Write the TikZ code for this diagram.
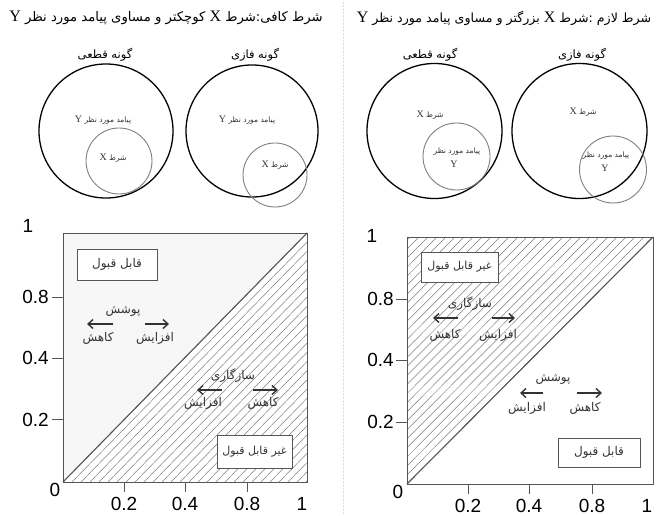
\documentclass[tikz,border=0pt]{standalone}
\usepackage{fontspec}
\setmainfont{Liberation Serif}
\setsansfont{Liberation Sans}
\newfontfamily\fa[Script=Arabic]{DejaVu Sans}
\TeXXeTstate=1
\usetikzlibrary{
  arrows.meta
}
\definecolor{FrameGray}{HTML}{555555}
\definecolor{HatchGray}{HTML}{808080}
\definecolor{InkGray}{HTML}{333333}
\definecolor{PlotBack}{HTML}{F7F7F7}
\newcommand{\latin}[2]{{\rmfamily\fontsize{#1}{#1}\selectfont #2}}
\tikzset{
  headline/.style={
    font=\fa\fontsize{13.2}{15}\selectfont,
    inner sep=0pt
  },
  kind/.style={
    font=\fa\fontsize{11.5}{13}\selectfont,
    inner sep=0pt
  },
  outcome/.style={
    circle,
    draw=black,
    line width=1.3pt,
    inner sep=0pt,
    minimum size=134pt
  },
  condition/.style={
    circle,
    draw=HatchGray,
    line width=0.9pt,
    inner sep=0pt,
    minimum size=66pt
  },
  tinytext/.style={
    font=\fa\fontsize{7.5}{9}\selectfont,
    text=InkGray,
    inner sep=0pt
  },
  frame/.style={
    draw=FrameGray,
    line width=0.9pt
  },
  hatch/.style={
    draw=HatchGray,
    line width=0.5pt
  },
  diag/.style={
    draw=FrameGray,
    line width=1.1pt
  },
  tickmark/.style={
    draw=FrameGray,
    line width=0.8pt
  },
  num/.style={
    font=\sffamily\fontsize{19}{21}\selectfont,
    inner sep=0pt
  },
  verdict/.style={
    draw=FrameGray,
    fill=white,
    line width=0.9pt,
    inner sep=0pt,
    font=\fa\fontsize{12}{14}\selectfont,
    text=InkGray
  },
  word/.style={
    font=\fa\fontsize{12}{14}\selectfont,
    text=InkGray,
    inner sep=0pt
  },
  swingarrow/.style={
    -{Straight Barb[length=5pt,width=9pt]},
    line width=1.4pt,
    draw=InkGray
  }
}

\begin{document}
\begin{tikzpicture}[x=1pt,y=-1pt]

  \useasboundingbox[fill=white] (0,0) rectangle (657,516);

  \draw[gray!25,densely dotted] (343,2) -- (343,514);

  \node[headline] (titleA) at (166,18)
  {\beginR شرط کافی:شرط \latin{16}{X} کوچکتر و مساوی پیامد مورد نظر \latin{16}{Y}\endR};
  \node[headline,font=\fa\fontsize{12.6}{15}\selectfont] (titleB) at (504,18)
  {\beginR شرط لازم :شرط \latin{16}{X} بزرگتر و مساوی پیامد مورد نظر \latin{16}{Y}\endR};

  \node[kind] (crispA) at (105,55) {\beginR گونه قطعی\endR};
  \node[kind] (fuzzyA) at (255,55) {\beginR گونه فازی\endR};
  \node[kind] (crispB) at (430,55) {\beginR گونه قطعی\endR};
  \node[kind] (fuzzyB) at (582,55) {\beginR گونه فازی\endR};

  \node[outcome] (outA) at (106,131) {};
  \node[condition] (condA) at (119,161) {};
  \node[tinytext] (outAtxt) at (103,120) {\beginR پیامد مورد نظر \latin{10}{Y}\endR};
  \node[tinytext] (condAtxt) at (113,158) {\beginR شرط \latin{10}{X}\endR};

  \node[outcome,minimum size=132pt] (outB) at (252,131) {};
  \node[condition,minimum size=64pt] (condB) at (275,175) {};
  \node[tinytext] (outBtxt) at (247,120) {\beginR پیامد مورد نظر \latin{10}{Y}\endR};
  \node[tinytext] (condBtxt) at (275,165) {\beginR شرط \latin{10}{X}\endR};

  \node[outcome,minimum size=135pt] (condC) at (434.5,131) {};
  \node[condition,minimum size=67pt] (outC) at (456.5,156.5) {};
  \node[tinytext] (condCtxt) at (430,115) {\beginR شرط \latin{10}{X}\endR};
  \node[tinytext] (outCtxt) at (457,152) {\beginR پیامد مورد نظر\endR};
  \node[tinytext] (outCy) at (454,164) {\latin{10}{Y}};

  \node[outcome,minimum size=135pt] (condD) at (579.5,131) {};
  \node[condition,minimum size=67pt] (outD) at (613,169.5) {};
  \node[tinytext] (condDtxt) at (583,112) {\beginR شرط \latin{10}{X}\endR};
  \node[tinytext] (outDtxt) at (606,156) {\beginR پیامد مورد نظر\endR};
  \node[tinytext] (outDy) at (605,168) {\latin{10}{Y}};

  \fill[PlotBack] (63,233) rectangle (307,482);
  \begin{scope}
    \clip (63,482) -- (307,482) -- (307,233) -- cycle;
    \fill[white] (63,482) -- (307,482) -- (307,233) -- cycle;
    \foreach \k in {0,9,...,252} {
      \draw[hatch] (63+\k,482) -- ++(244,-249);
    }
  \end{scope}
  \draw[diag] (63,482) -- (307,233);
  \draw[frame] (63,233) rectangle (307,482);
  \foreach \y in {297,358,419} {
    \draw[tickmark] (52,\y) -- (63,\y);
  }
  \foreach \x in {124,185,247} {
    \draw[tickmark] (\x,482) -- (\x,492);
  }
  \node[num] (yA1) at (28,226) {1};
  \node[num,anchor=east] (yA8) at (49,297) {0.8};
  \node[num,anchor=east] (yA4) at (49,358) {0.4};
  \node[num,anchor=east] (yA2) at (49,420) {0.2};
  \node[num] (oA) at (55,490) {0};
  \node[num] (xA2) at (124,504) {0.2};
  \node[num] (xA4) at (185,504) {0.4};
  \node[num] (xA8) at (247,504) {0.8};
  \node[num] (xA1) at (302,504) {1};

  \node[verdict,minimum width=80pt,minimum height=31pt] (okA) at (117,264.5)
  {\beginR قابل قبول\endR};
  \node[verdict,font=\fa\fontsize{11}{13}\selectfont,minimum width=75pt,minimum height=33pt] (badA) at (254.5,451.5)
  {\beginR غیر قابل قبول\endR};

  \node[word] (covA) at (123,311) {\beginR پوشش\endR};
  \draw[swingarrow] (113,324) -- (87,324);
  \draw[swingarrow] (145,324) -- (169,324);
  \node[word] (covAdn) at (98,338) {\beginR کاهش\endR};
  \node[word] (covAup) at (155,338) {\beginR افزایش\endR};

  \node[word] (fitA) at (233,376) {\beginR سازگاری\endR};
  \draw[swingarrow] (222,390) -- (197,390);
  \draw[swingarrow] (253,390) -- (278,390);
  \node[word] (fitAup) at (203,403) {\beginR افزایش\endR};
  \node[word] (fitAdn) at (263,403) {\beginR کاهش\endR};

  \fill[white] (407,237) rectangle (653,484);
  \begin{scope}
    \clip (407,484) -- (407,237) -- (653,237) -- cycle;
    \foreach \k in {0,9,...,252} {
      \draw[hatch] (407-\k,484) -- ++(246,-247);
    }
  \end{scope}
  \draw[diag] (407,484) -- (653,237);
  \draw[frame] (407,237) rectangle (653,484);
  \foreach \y in {299,360,422} {
    \draw[tickmark] (396,\y) -- (407,\y);
  }
  \foreach \x in {468,529,592} {
    \draw[tickmark] (\x,484) -- (\x,494);
  }
  \node[num] (yB1) at (372,236) {1};
  \node[num,anchor=east] (yB8) at (394,299) {0.8};
  \node[num,anchor=east] (yB4) at (394,360) {0.4};
  \node[num,anchor=east] (yB2) at (394,422) {0.2};
  \node[num] (oB) at (398,492) {0};
  \node[num] (xB2) at (468,506) {0.2};
  \node[num] (xB4) at (529,506) {0.4};
  \node[num] (xB8) at (592,506) {0.8};
  \node[num] (xB1) at (647,506) {1};

  \node[verdict,font=\fa\fontsize{11}{13}\selectfont,minimum width=77pt,minimum height=30pt] (badB) at (459.5,267)
  {\beginR غیر قابل قبول\endR};
  \node[verdict,minimum width=82pt,minimum height=29pt] (okB) at (599,452.5)
  {\beginR قابل قبول\endR};

  \node[word] (fitB) at (470,304) {\beginR سازگاری\endR};
  \draw[swingarrow] (458,318) -- (433,318);
  \draw[swingarrow] (492,318) -- (515,318);
  \node[word] (fitBdn) at (445,335) {\beginR کاهش\endR};
  \node[word] (fitBup) at (498,335) {\beginR افزایش\endR};

  \node[word] (covB) at (553,379) {\beginR پوشش\endR};
  \draw[swingarrow] (543,393) -- (520,393);
  \draw[swingarrow] (577,393) -- (602,393);
  \node[word] (covBup) at (527,408) {\beginR افزایش\endR};
  \node[word] (covBdn) at (585,408) {\beginR کاهش\endR};

\end{tikzpicture}
\end{document}
